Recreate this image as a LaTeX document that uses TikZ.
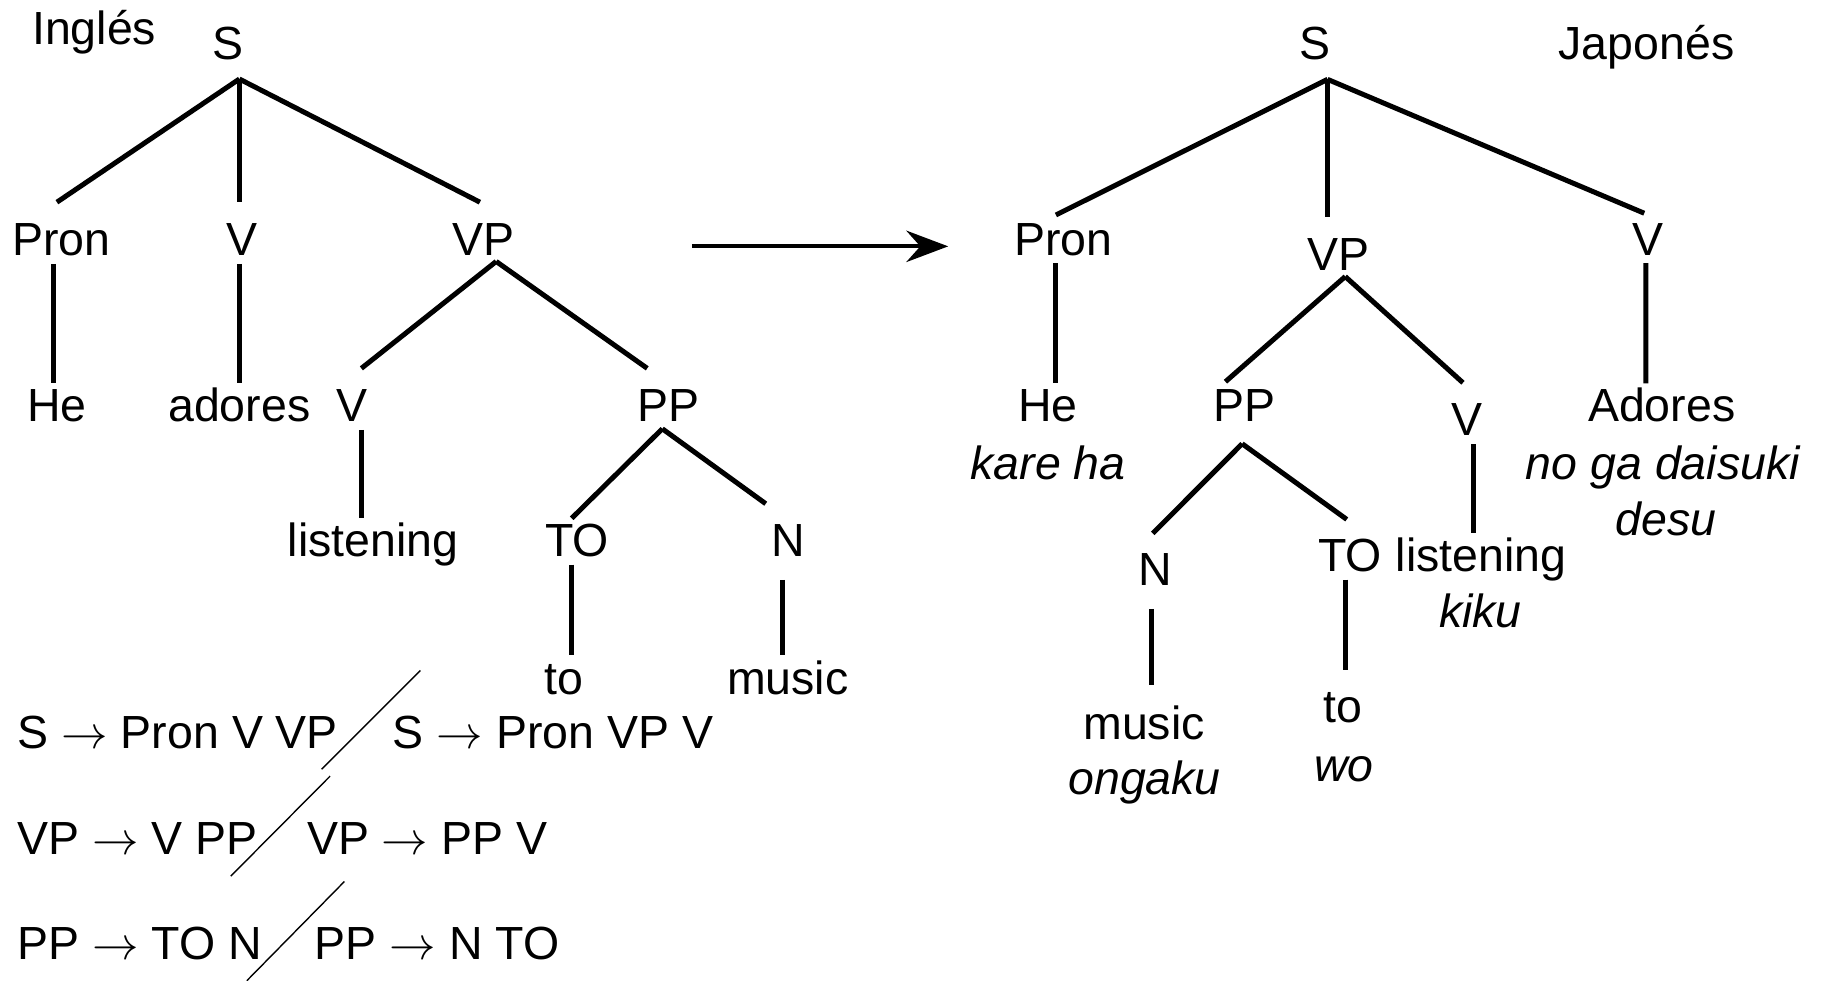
\RequirePackage{fix-cm}
\documentclass[tikz,border=0pt]{standalone}
\usepackage{fontspec}
\setmainfont{Liberation Sans}
\usetikzlibrary{calc,arrows.meta}
\newcommand{\rarr}{$\rightarrow$}
\begin{document}
\begin{tikzpicture}[x=1pt,y=-1pt,
  lbl/.style={anchor=base,inner sep=0pt,font=\fontsize{40}{48}\selectfont},
  ilbl/.style={lbl,font=\fontsize{40}{48}\selectfont\itshape},
  rulebox/.style={lbl,anchor=base west},
  edge/.style={line width=4.3pt},
  slash/.style={line width=1.2pt},
  bigarrow/.style={line width=3.5pt,-{Stealth[length=36pt,width=27pt,inset=12pt]}}]
\fill[white] (0,0) rectangle (1568,844);
\useasboundingbox (0,0) rectangle (1568,844);

% ---------- English tree ----------
\node[lbl] (ing)   at (81,38.7)  {Inglés};
\node[lbl] (sL)    at (196,51.6) {S};
\node[lbl] (pronL) at (53,220)   {Pron};
\node[lbl] (vL)    at (208,220)  {V};
\node[lbl] (vpL)   at (416,220)  {VP};
\node[lbl] (heL)   at (49,363)   {He};
\node[lbl] (adL)   at (206,363)  {adores};
\node[lbl] (v2L)   at (303,363)  {V};
\node[lbl] (ppL)   at (575,363)  {PP};
\node[lbl] (lisL)  at (321,479)  {listening};
\node[lbl] (toL)   at (496.5,479){TO};
\node[lbl] (nL)    at (678,479)  {N};
\node[lbl] (towL)  at (485,597.6){to};
\node[lbl] (musL)  at (678,597.6){music};

\draw[edge] ($(sL.base)+(10,16.4)$) -- ($(pronL.base)+(-4,-46)$);
\draw[edge] ($(sL.base)+(10,16.4)$) -- ($(vL.base)+(-2,-46)$);
\draw[edge] ($(sL.base)+(10,16.4)$) -- ($(vpL.base)+(-3,-46)$);
\draw[edge] ($(pronL.base)+(-7,7)$) -- ($(heL.base)+(-3,-33)$);
\draw[edge] ($(vL.base)+(-2,7)$) -- ($(adL.base)+(0,-33)$);
\draw[edge] ($(vpL.base)+(11,5)$) -- ($(v2L.base)+(8,-46)$);
\draw[edge] ($(vpL.base)+(11,5)$) -- ($(ppL.base)+(-18,-46)$);
\draw[edge] ($(v2L.base)+(8,7)$) -- ($(lisL.base)+(-10,-33)$);
\draw[edge] ($(ppL.base)+(-5,6)$) -- ($(toL.base)+(-4.5,-33)$);
\draw[edge] ($(ppL.base)+(-5,6)$) -- ($(nL.base)+(-19,-45.5)$);
\draw[edge] ($(toL.base)+(-5,7)$) -- ($(towL.base)+(6.5,-33.6)$);
\draw[edge] ($(nL.base)+(-5,20)$) -- ($(musL.base)+(-5,-33.6)$);

% ---------- rules ----------
\node[rulebox] (r1a) at (15,644)     {S \rarr{} Pron V VP};
\node[rulebox] (r1b) at (338,644)    {S \rarr{} Pron VP V};
\node[rulebox] (r2a) at (15,735.6)   {VP \rarr{} V PP};
\node[rulebox] (r2b) at (264,735.6)  {VP \rarr{} PP V};
\node[rulebox] (r3a) at (15,825.4)   {PP \rarr{} TO N};
\node[rulebox] (r3b) at (270.7,825.4){PP \rarr{} N TO};
\coordinate (s1a) at (361.7,577);   \coordinate (s1b) at (276.7,662);
\coordinate (s2a) at (284,668);     \coordinate (s2b) at (198.6,754);
\coordinate (s3a) at (296.4,758.6); \coordinate (s3b) at (212.4,844);
\draw[slash] (s1a) -- (s1b);
\draw[slash] (s2a) -- (s2b);
\draw[slash] (s3a) -- (s3b);

% ---------- arrow ----------
\coordinate (arrA) at (595.5,212);
\coordinate (arrB) at (816,212);
\draw[bigarrow] (arrA) -- (arrB);

% ---------- Japanese tree ----------
\node[lbl] (sR)    at (1132,51.6)  {S};
\node[lbl] (jap)   at (1417,51.6)  {Japonés};
\node[lbl] (pronR) at (915,219.5)  {Pron};
\node[lbl] (vpR)   at (1152,232.4) {VP};
\node[lbl] (vR)    at (1418.6,219.5){V};
\node[lbl] (heR)   at (902,362.9)  {He};
\node[ilbl] (kareR) at (902,412.7) {kare ha};
\node[lbl] (ppR)   at (1070.6,362.9){PP};
\node[lbl] (v2R)   at (1262.5,374.4){V};
\node[lbl] (adR)   at (1430,362.9) {Adores};
\node[ilbl] (nogaR) at (1431,412.7){no ga daisuki};
\node[ilbl] (desuR) at (1434,460.6){desu};
\node[lbl] (nR)    at (994.6,503.7){N};
\node[lbl] (toR)   at (1162,491.5) {TO};
\node[lbl] (lisR)  at (1274.5,491.5){listening};
\node[ilbl] (kikuR) at (1274,540)  {kiku};
\node[lbl] (musR)  at (984.6,636)  {music};
\node[ilbl] (ongR)  at (985,683.6) {ongaku};
\node[lbl] (towR)  at (1156,621.5) {to};
\node[ilbl] (woR)   at (1156.7,672.6){wo};

\draw[edge] ($(sR.base)+(10.5,16.7)$) -- ($(pronR.base)+(-6.3,-34.5)$);
\draw[edge] ($(sR.base)+(10.5,16.7)$) -- ($(vpR.base)+(-9.5,-46)$);
\draw[edge] ($(sR.base)+(10.5,16.7)$) -- ($(vR.base)+(-3.6,-36)$);
\draw[edge] ($(pronR.base)+(-6.3,7)$) -- ($(heR.base)+(6.7,-33)$);
\draw[edge] ($(vR.base)+(-2.2,7)$) -- ($(adR.base)+(-13.6,-33)$);
\draw[edge] ($(vpR.base)+(5.7,5.6)$) -- ($(ppR.base)+(-16,-34.4)$);
\draw[edge] ($(vpR.base)+(5.7,5.6)$) -- ($(v2R.base)+(-3.5,-45)$);
\draw[edge] ($(ppR.base)+(-1.6,19)$) -- ($(nR.base)+(-2.6,-44.7)$);
\draw[edge] ($(ppR.base)+(-1.6,19)$) -- ($(toR.base)+(-3,-44.5)$);
\draw[edge] ($(v2R.base)+(5.5,8)$) -- ($(lisR.base)+(-6.5,-32.5)$);
\draw[edge] ($(nR.base)+(-3.6,20.3)$) -- ($(musR.base)+(6.4,-46.3)$);
\draw[edge] ($(toR.base)+(-4.3,7.3)$) -- ($(towR.base)+(1.7,-44.5)$);
\end{tikzpicture}
\end{document}
